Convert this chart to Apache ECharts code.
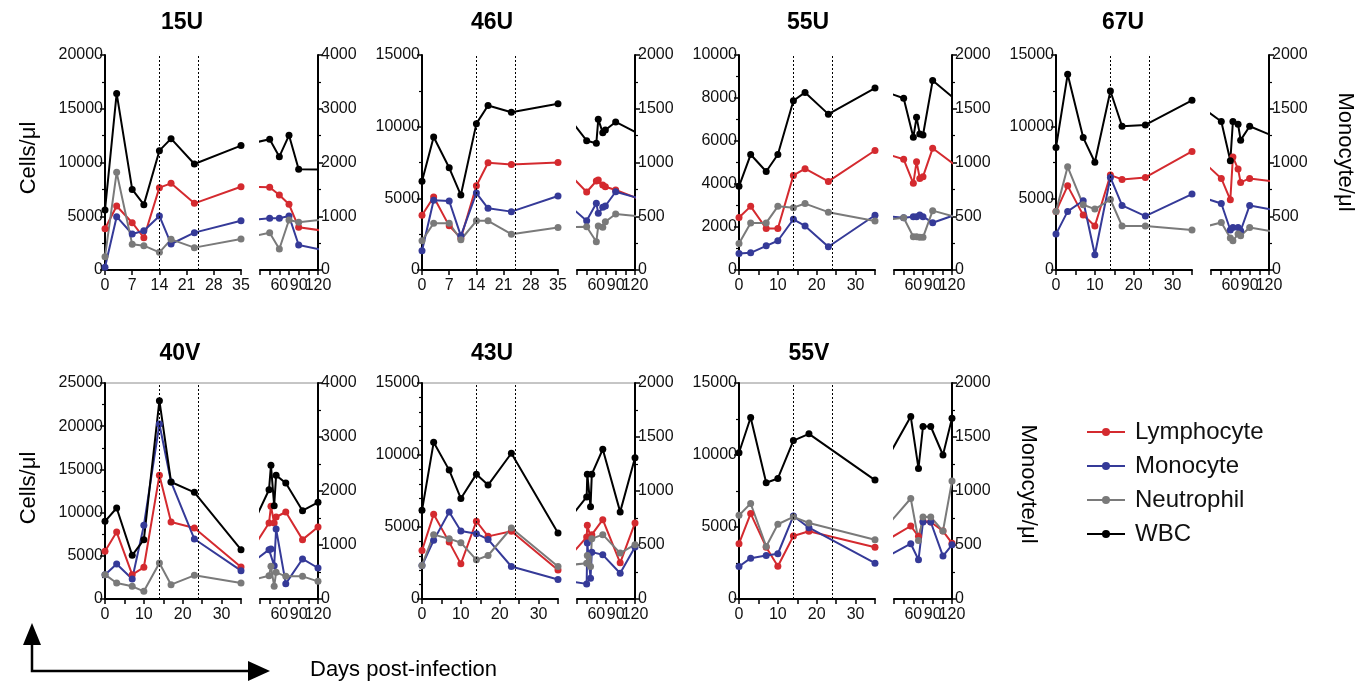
<!DOCTYPE html>
<html>
<head>
<meta charset="utf-8">
<script src="https://cdn.jsdelivr.net/npm/echarts@6/dist/echarts.min.js"></script>
<style>
  html, body { margin: 0; padding: 0; background: #fff; }
  #chart { width: 1368px; height: 681px; }
</style>
</head>
<body>
<div id="chart"></div>
<script>
// ---- data (days post-infection; monocyte values are on the right axis) ----
const days15U = [0, 3, 7, 10, 14, 17, 23, 35, 45, 60, 75, 90, 130];
const wbc15U  = [5580, 16430, 7500, 6080, 11100, 12220, 9860, 11570, 12160, 10540, 12530, 9370, 9350];
const lym15U  = [3840, 5950, 4400, 3000, 7660, 8060, 6200, 7750, 7690, 6980, 6110, 3970, 3640];
const mono15U = [50, 992, 670, 730, 1005, 484, 695, 918, 962, 962, 1005, 465, 365];
const neu15U  = [1240, 9085, 2390, 2260, 1640, 2850, 2080, 2880, 3470, 1950, 4650, 4440, 4720];

const days46U = [0, 3, 7, 10, 14, 17, 23, 35, 45, 60, 63, 70, 74, 90, 130];
const wbc46U  = [6200, 9280, 7130, 5230, 10210, 11480, 11000, 11600, 9020, 8840, 10510, 9580, 9770, 10330, 9400];
const lym46U  = [3820, 5090, 3080, 2220, 5880, 7480, 7360, 7500, 5440, 6210, 6280, 5930, 5810, 5580, 4900];
const mono46U = [179, 648, 642, 318, 716, 574, 543, 688, 459, 620, 527, 583, 595, 728, 660];
const neu46U  = [2040, 3260, 3260, 2110, 3430, 3430, 2500, 2960, 3020, 1975, 3070, 2980, 3370, 3910, 3720];

const days55U = [0, 3, 7, 10, 14, 17, 23, 35, 45, 60, 65, 70, 75, 90, 130];
const wbc55U  = [3890, 5370, 4580, 5370, 7870, 8260, 7250, 8460, 7990, 6170, 7100, 6330, 6280, 8810, 7810];
const lym55U  = [2440, 2960, 1930, 1930, 4400, 4710, 4120, 5560, 5150, 4030, 5040, 4260, 4340, 5660, 4770];
const mono55U = [154, 160, 225, 272, 472, 410, 216, 509, 487, 496, 496, 512, 496, 440, 523];
const neu55U  = [1235, 2190, 2190, 2960, 2900, 3090, 2690, 2280, 2430, 1550, 1550, 1520, 1520, 2760, 2430];

const days67U = [0, 3, 7, 10, 14, 17, 23, 35, 46, 60, 64, 72, 76, 90, 130];
const wbc67U  = [8545, 13650, 9240, 7520, 12490, 10030, 10120, 11840, 10360, 7620, 10360, 10170, 9060, 10030, 9280];
const lym67U  = [4090, 5870, 3830, 3070, 6620, 6320, 6460, 8270, 6390, 4900, 7890, 7040, 6110, 6390, 6160];
const mono67U = [334, 545, 644, 142, 861, 601, 502, 706, 619, 372, 396, 396, 365, 601, 556];
const neu67U  = [4090, 7200, 4550, 4250, 4920, 3070, 3070, 2790, 3320, 2230, 2040, 2510, 2390, 2970, 2660];

const days40V = [0, 3, 7, 10, 14, 17, 23, 35, 44, 47, 52, 55, 70, 96, 120];
const wbc40V  = [8990, 10530, 5050, 6870, 22950, 13540, 12350, 5710, 12650, 15470, 10800, 14310, 13430, 10220, 11190];
const lym40V  = [5520, 7750, 2820, 3670, 14310, 8910, 8220, 3700, 8800, 10730, 8800, 9490, 10070, 6870, 8330];
const mono40V = [450, 648, 370, 1364, 3240, 2167, 1111, 525, 914, 926, 617, 1296, 284, 741, 574];
const neu40V  = [2820, 1850, 1470, 890, 4170, 1660, 2740, 1850, 2700, 3780, 1470, 3090, 2620, 2620, 2040];

const days43U = [0, 3, 7, 10, 14, 17, 23, 35, 45, 46, 51, 53, 70, 97, 120];
const wbc43U  = [6160, 10880, 8950, 6980, 8670, 7910, 10120, 4580, 7090, 8670, 6400, 8670, 10400, 6050, 9810];
const lym43U  = [3370, 5880, 3950, 2440, 5400, 4350, 4700, 2020, 4300, 5120, 4300, 4470, 5510, 2510, 5280];
const mono43U = [310, 543, 806, 629, 605, 552, 301, 180, 140, 518, 192, 434, 409, 239, 481];
const neu43U  = [2330, 4470, 4190, 3910, 2720, 3020, 4930, 2260, 2490, 3020, 2260, 4190, 4470, 3190, 3770];

const days55V = [0, 3, 7, 10, 14, 18, 35, 56, 68, 75, 87, 106, 120];
const wbc55V  = [10160, 12600, 8070, 8370, 11000, 11470, 8260, 12670, 9070, 11980, 11980, 10000, 12560];
const lym55V  = [3840, 5930, 3600, 2280, 4370, 4700, 3600, 5070, 4350, 5400, 5350, 4720, 3880];
const mono55V = [301, 378, 403, 419, 769, 660, 332, 512, 363, 713, 713, 397, 502];
const neu55V  = [5810, 6630, 3650, 5190, 5700, 5280, 4120, 6980, 4070, 5700, 5700, 4720, 8190];

// dotted reference lines
const phaseDays = [14, 24];
const rightLabels = [60, 90, 120];
const seriesNames = ['Lymphocyte', 'Monocyte', 'Neutrophil', 'WBC'];

const panels = [
  { title: '15U', row: 0, col: 0, titleX: 182, days: days15U, lym: lym15U, mono: mono15U, neu: neu15U, wbc: wbc15U, yMax: 20000, yStep: 5000, mMax: 4000, mStep: 1000, weekly: true },
  { title: '46U', row: 0, col: 1, titleX: 492, days: days46U, lym: lym46U, mono: mono46U, neu: neu46U, wbc: wbc46U, yMax: 15000, yStep: 5000, mMax: 2000, mStep: 500, weekly: true },
  { title: '55U', row: 0, col: 2, titleX: 808, days: days55U, lym: lym55U, mono: mono55U, neu: neu55U, wbc: wbc55U, yMax: 10000, yStep: 2000, mMax: 2000, mStep: 500 },
  { title: '67U', row: 0, col: 3, titleX: 1123, days: days67U, lym: lym67U, mono: mono67U, neu: neu67U, wbc: wbc67U, yMax: 15000, yStep: 5000, mMax: 2000, mStep: 500 },
  { title: '40V', row: 1, col: 0, titleX: 180, days: days40V, lym: lym40V, mono: mono40V, neu: neu40V, wbc: wbc40V, yMax: 25000, yStep: 5000, mMax: 4000, mStep: 1000 },
  { title: '43U', row: 1, col: 1, titleX: 492, days: days43U, lym: lym43U, mono: mono43U, neu: neu43U, wbc: wbc43U, yMax: 15000, yStep: 5000, mMax: 2000, mStep: 500, yMinor: 5 },
  { title: '55V', row: 1, col: 2, titleX: 809, days: days55V, lym: lym55V, mono: mono55V, neu: neu55V, wbc: wbc55V, yMax: 15000, yStep: 5000, mMax: 2000, mStep: 500 },
];

// ---- layout ----
const FONT = "'Liberation Sans', Arial, Helvetica, sans-serif";
const colors = { Lymphocyte: '#d42a2f', Monocyte: '#353a98', Neutrophil: '#7a7a7a', WBC: '#000000' };
const colX = [105, 422, 739, 1056];
const rowTop = [55, 383];
const rowH = [215, 216];
const LEFT_W = 136, GAP = 19, RIGHT_W = 58;
const LEFT_MAX = 35, RIGHT_MIN = 30, RIGHT_MAX = 120;

// day on the left segment -> equivalent position on the right segment scale
// (so lines crossing the axis break enter the right segment at the right place)
function toRightX(d) {
  if (d > LEFT_MAX) return d;
  const px = GAP + (LEFT_MAX - d) * LEFT_W / LEFT_MAX;
  return RIGHT_MIN - px * (RIGHT_MAX - RIGHT_MIN) / RIGHT_W;
}

const axisLineStyle = { color: '#000', width: 2 };
const tickStyle = { color: '#000', width: 1.5 };
const labelStyle = { fontSize: 16, color: '#111', fontFamily: FONT };
const plain = v => String(v);

const grid = [], xAxis = [], yAxis = [], series = [], graphic = [];

panels.forEach((p, i) => {
  const left = colX[p.col], top = rowTop[p.row], h = rowH[p.row];
  grid.push({ left: left, top: top, width: LEFT_W, height: h });
  grid.push({ left: left + LEFT_W + GAP, top: top, width: RIGHT_W, height: h });

  xAxis.push({
    type: 'value', gridIndex: 2 * i, min: 0, max: LEFT_MAX, interval: p.weekly ? 7 : 5,
    axisLine: { show: true, onZero: false, lineStyle: axisLineStyle },
    axisTick: { show: true, length: 5, lineStyle: tickStyle },
    axisLabel: Object.assign({ margin: 8, formatter: v => (p.weekly || v % 10 === 0) ? String(v) : '' }, labelStyle),
    splitLine: { show: false },
  });
  xAxis.push({
    type: 'value', gridIndex: 2 * i + 1, min: RIGHT_MIN, max: RIGHT_MAX, interval: 15,
    axisLine: { show: true, onZero: false, lineStyle: axisLineStyle },
    axisTick: { show: true, length: 5, lineStyle: tickStyle },
    axisLabel: Object.assign({ margin: 8, formatter: v => rightLabels.includes(v) ? String(v) : '' }, labelStyle),
    splitLine: { show: false },
  });

  const minorTick = n => ({ show: true, splitNumber: n, length: 3, lineStyle: { color: '#000', width: 1.2 } });
  // left grid: visible cells axis + hidden monocyte axis
  yAxis.push({
    type: 'value', gridIndex: 2 * i, position: 'left', min: 0, max: p.yMax, interval: p.yStep,
    axisLine: { show: true, onZero: false, lineStyle: axisLineStyle },
    axisTick: { show: true, length: 5, lineStyle: tickStyle },
    minorTick: minorTick(p.yMinor || 2),
    axisLabel: Object.assign({ margin: 2, formatter: plain }, labelStyle),
    splitLine: { show: false },
  });
  yAxis.push({ type: 'value', gridIndex: 2 * i, position: 'right', min: 0, max: p.mMax, show: false, splitLine: { show: false } });
  // right grid: hidden cells axis + visible monocyte axis
  yAxis.push({ type: 'value', gridIndex: 2 * i + 1, position: 'left', min: 0, max: p.yMax, show: false, splitLine: { show: false } });
  yAxis.push({
    type: 'value', gridIndex: 2 * i + 1, position: 'right', min: 0, max: p.mMax, interval: p.mStep,
    axisLine: { show: true, onZero: false, lineStyle: axisLineStyle },
    axisTick: { show: true, length: 5, lineStyle: tickStyle },
    minorTick: minorTick(2),
    axisLabel: Object.assign({ margin: 3, formatter: plain }, labelStyle),
    splitLine: { show: false },
  });

  const valuesOf = { Lymphocyte: p.lym, Monocyte: p.mono, Neutrophil: p.neu, WBC: p.wbc };
  seriesNames.forEach(name => {
    const vals = valuesOf[name];
    const isMono = name === 'Monocyte';
    const base = {
      name: name, type: 'line', symbol: 'circle', symbolSize: 7, clip: true,
      lineStyle: { width: 2, color: colors[name] }, itemStyle: { color: colors[name] },
      emphasis: { disabled: true }, silent: true,
    };
    const leftSeries = Object.assign({}, base, {
      xAxisIndex: 2 * i, yAxisIndex: 4 * i + (isMono ? 1 : 0),
      data: p.days.map((d, k) => [d, vals[k]]),
    });
    if (name === 'WBC') {
      leftSeries.markLine = {
        silent: true, symbol: ['none', 'none'], label: { show: false },
        lineStyle: { type: [2, 2], color: '#000', width: 1 },
        emphasis: { disabled: true },
        data: phaseDays.map(d => ({ xAxis: d })),
      };
    }
    series.push(leftSeries);
    series.push(Object.assign({}, base, {
      xAxisIndex: 2 * i + 1, yAxisIndex: 4 * i + (isMono ? 3 : 2),
      data: p.days.map((d, k) => [toRightX(d), vals[k]]),
    }));
  });

  graphic.push({
    type: 'text', x: p.titleX, y: p.row === 0 ? 23 : 354,
    style: { text: p.title, fontSize: 23, fontWeight: 'bold', fontFamily: FONT, fill: '#000', align: 'center', verticalAlign: 'middle' },
  });
  if (p.row === 1) {
    graphic.push({
      type: 'line', z: -1,
      shape: { x1: left, y1: top, x2: left + LEFT_W + GAP + RIGHT_W, y2: top },
      style: { stroke: '#8c8c8c', lineWidth: 1 },
    });
  }
});

// axis titles
const axisTitle = (text, x, y, rot) => ({
  type: 'text', x: x, y: y, rotation: rot,
  style: { text: text, fontSize: 22, fontFamily: FONT, fill: '#000', align: 'center', verticalAlign: 'middle' },
});
graphic.push(axisTitle('Cells/μl', 29, 158, Math.PI / 2));
graphic.push(axisTitle('Cells/μl', 29, 488, Math.PI / 2));
graphic.push(axisTitle('Monocyte/μl', 1345, 152, -Math.PI / 2));
graphic.push(axisTitle('Monocyte/μl', 1028, 484, -Math.PI / 2));

// corner arrows
graphic.push({ type: 'polyline', shape: { points: [[32, 643], [32, 671], [250, 671]] }, style: { stroke: '#000', lineWidth: 2.5, fill: null } });
graphic.push({ type: 'polygon', shape: { points: [[32, 623], [23, 645], [41, 645]] }, style: { fill: '#000' } });
graphic.push({ type: 'polygon', shape: { points: [[270, 671], [248, 661], [248, 681]] }, style: { fill: '#000' } });
graphic.push({
  type: 'text', x: 310, y: 670,
  style: { text: 'Days post-infection', fontSize: 22, fontFamily: FONT, fill: '#000', align: 'left', verticalAlign: 'middle' },
});

const chart = echarts.init(document.getElementById('chart'));
chart.setOption({
  animation: false,
  backgroundColor: '#fff',
  textStyle: { fontFamily: FONT },
  legend: {
    data: seriesNames, orient: 'vertical', left: 1081, top: 415,
    itemWidth: 38, itemHeight: 10, itemGap: 10, selectedMode: false,
    textStyle: { fontSize: 24, color: '#111', fontFamily: FONT, lineHeight: 24, padding: [0, 0, 0, 5] },
  },
  grid: grid,
  xAxis: xAxis,
  yAxis: yAxis,
  series: series,
  graphic: graphic,
});

window.addEventListener('resize', () => {
  chart.resize();
});
</script>
</body>
</html>
